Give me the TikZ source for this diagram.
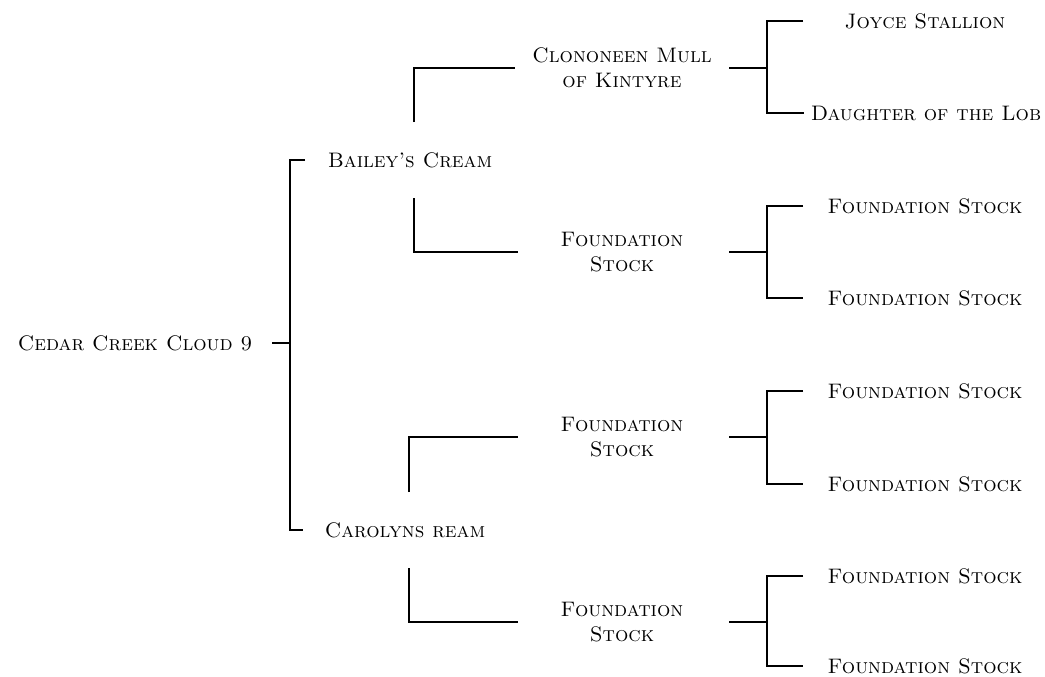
\documentclass[tikz,border=0pt]{standalone}
\usetikzlibrary{positioning}
\tikzset{
  horse/.style={
    font=\fontsize{21}{25}\selectfont\scshape,
    align=center,
    inner sep=0pt},
  line/.style={draw, line width=1.3pt},
}
\begin{document}
\begin{tikzpicture}[x=1pt, y=-1pt]
  \useasboundingbox (0,0) rectangle (1045,677);
  % generations
  \node[horse] (root) at (135,343) {Cedar Creek Cloud 9};
  \node[horse] (bailey) at (410,160) {Bailey's Cream};
  \node[horse] (carolyn) at (405,530) {Carolyns ream};
  \node[horse] (clon) at (622,68) {Clononeen Mull\\of Kintyre};
  \node[horse] (fs1) at (622,252) {Foundation\\Stock};
  \node[horse] (fs2) at (622,437) {Foundation\\Stock};
  \node[horse] (fs3) at (622,622) {Foundation\\Stock};
  \node[horse] (joyce) at (925,21) {Joyce Stallion};
  \node[horse] (lob) at (926,113) {Daughter of the Lob};
  \node[horse] (fs1a) at (925,206) {Foundation Stock};
  \node[horse] (fs1b) at (925,298) {Foundation Stock};
  \node[horse] (fs2a) at (925,391) {Foundation Stock};
  \node[horse] (fs2b) at (925,484) {Foundation Stock};
  \node[horse] (fs3a) at (925,576) {Foundation Stock};
  \node[horse] (fs3b) at (925,666) {Foundation Stock};
  \coordinate (spine) at (290,343);
  % connectors
  \draw[line] ([xshift=137pt]root.center) -- (spine);
  \draw[line] ([xshift=-105pt]bailey.center) -| (spine) |- ([xshift=-102pt]carolyn.center);
  \draw[line] ([shift={(4,-38)}]bailey.center) |- ([xshift=-107pt]clon.center);
  \draw[line] ([shift={(4,38)}]bailey.center) |- ([xshift=-104pt]fs1.center);
  \draw[line] ([shift={(4,-38)}]carolyn.center) |- ([xshift=-104pt]fs2.center);
  \draw[line] ([shift={(4,38)}]carolyn.center) |- ([xshift=-104pt]fs3.center);
  \foreach \m/\a/\b in {clon/joyce/lob, fs1/fs1a/fs1b, fs2/fs2a/fs2b, fs3/fs3a/fs3b} {
    \draw[line] ([xshift=107pt]\m.center) -- ([xshift=145pt]\m.center);
    \draw[line] ([xshift=-122pt]\a.center) -| ([xshift=145pt]\m.center)
      |- ([xshift=-122pt]\b.center);
  }
\end{tikzpicture}
\end{document}
